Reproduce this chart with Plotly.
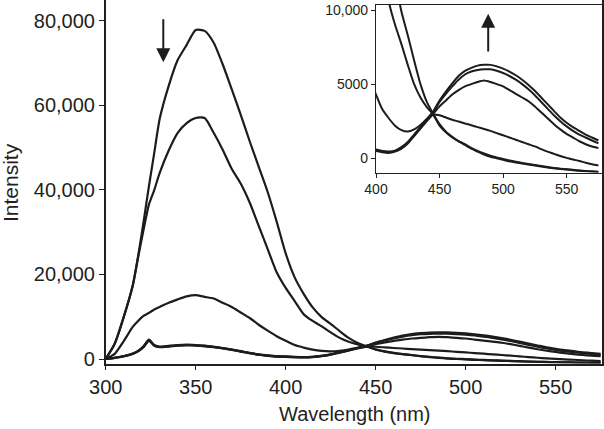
import plotly.graph_objects as go

# Wavelength grid (nm)
wavelength = [300, 305, 310, 315, 318, 321, 324, 327, 330, 335, 340, 345, 350, 355, 360, 365,
              370, 375, 380, 385, 390, 395, 400, 405, 410, 415, 420, 425, 430, 435, 440, 445,
              450, 455, 460, 465, 470, 475, 480, 485, 490, 495, 500, 505, 510, 515, 520, 525,
              530, 535, 540, 545, 550, 555, 560, 565, 570, 575]

# Emission spectra
curve_a = [0, 3600, 9900, 17300, 24300, 32300, 40800, 48800, 56800, 64600, 70700, 74300, 77800, 77600,
           74800, 69700, 63800, 57800, 51500, 45500, 39500, 32500, 25000, 19300, 15400, 12200, 9900, 8300,
           6600, 5000, 3800, 3000, 2300, 1800, 1450, 1150, 900, 650, 450, 250, 100, 0, -100, -200,
           -280, -350, -420, -480, -550, -620, -680, -720, -760, -800, -840, -870, -900, -920]
curve_b = [0, 3600, 9900, 17300, 24000, 30500, 36500, 40000, 44000, 49300, 53500, 55800, 57000, 57000,
           53500, 49500, 45000, 41500, 37000, 31500, 26000, 20500, 16800, 13700, 10600, 9000, 7700, 6300,
           5000, 4100, 3450, 2950, 2200, 1750, 1400, 1150, 950, 700, 500, 330, 180, 60, -40, -140,
           -230, -310, -380, -450, -520, -590, -650, -700, -740, -780, -820, -850, -880, -900]
curve_c = [0, 1200, 4200, 7600, 9000, 10200, 10900, 11700, 12300, 13300, 14100, 14800, 15100, 14700,
           14300, 13300, 12300, 11000, 9700, 8100, 6700, 5400, 4300, 3300, 2700, 2200, 1900, 1800,
           1950, 2250, 2650, 2950, 2900, 2750, 2600, 2480, 2350, 2230, 2100, 1980, 1850, 1700, 1550, 1400,
           1250, 1100, 950, 800, 620, 450, 300, 150, 30, -80, -180, -300, -400, -480]
curve_d = [0, 300, 700, 1300, 1900, 3000, 4600, 3300, 2900, 3100, 3300, 3400, 3300, 3150,
           2900, 2600, 2250, 1850, 1450, 1100, 850, 650, 600, 500, 450, 520, 750, 1100,
           1600, 2100, 2650, 3150, 3900, 4500, 5050, 5550, 5900, 6100, 6250, 6300, 6300, 6200, 6050, 5850,
           5600, 5300, 4950, 4550, 4100, 3650, 3200, 2750, 2400, 2100, 1850, 1600, 1400, 1200]
curve_e = [0, 280, 650, 1250, 1850, 2900, 4450, 3200, 2850, 3000, 3200, 3300, 3250, 3100,
           2850, 2550, 2200, 1800, 1400, 1050, 800, 620, 560, 470, 420, 500, 720, 1050,
           1550, 2050, 2600, 3100, 3800, 4350, 4850, 5300, 5650, 5850, 5950, 6000, 6000, 5900, 5750, 5550,
           5300, 5000, 4650, 4250, 3800, 3350, 2900, 2500, 2150, 1850, 1600, 1400, 1200, 1000]
curve_f = [0, 260, 620, 1200, 1800, 2800, 4300, 3100, 2800, 2950, 3150, 3250, 3150, 3000,
           2800, 2500, 2150, 1750, 1350, 1000, 750, 550, 500, 400, 350, 450, 650, 1000,
           1500, 2000, 2500, 3000, 3500, 3900, 4300, 4600, 4850, 5000, 5150, 5250, 5150, 5000, 4850, 4600,
           4350, 4100, 3850, 3500, 3100, 2700, 2300, 1950, 1650, 1400, 1150, 950, 800, 700]

curves = [curve_a, curve_b, curve_c, curve_d, curve_e, curve_f]

main_yticks = [0, 20000, 40000, 60000, 80000]
main_xticks = [300, 350, 400, 450, 500, 550]
inset_yticks = [0, 5000, 10000]
inset_yticklabels = ["0", "5000", "10,000"]
inset_xticks = [400, 450, 500, 550]

W, H = 604, 429
LINE = "#1c1c1c"
TXT = "#231f20"
FONT = "Liberation Sans, Arial, Helvetica, sans-serif"

fig = go.Figure()
for c in curves:
    fig.add_trace(go.Scatter(x=wavelength, y=c, mode="lines",
                             line=dict(color=LINE, width=2.2, shape="spline", smoothing=0.6),
                             xaxis="x", yaxis="y", showlegend=False, hoverinfo="skip"))
for c in curves:
    fig.add_trace(go.Scatter(x=wavelength, y=c, mode="lines",
                             line=dict(color=LINE, width=2.0, shape="spline", smoothing=0.6),
                             xaxis="x2", yaxis="y2", showlegend=False, hoverinfo="skip"))

axis_common = dict(showgrid=False, zeroline=False, showline=True, mirror=True,
                   linecolor=TXT, linewidth=1.5, ticks="outside", tickcolor=TXT,
                   tickwidth=1.3, automargin=False)

fig.update_layout(
    width=W, height=H,
    margin=dict(l=0, r=0, t=0, b=0),
    paper_bgcolor="white", plot_bgcolor="white",
    font=dict(family=FONT, color=TXT),
    xaxis=dict(axis_common, domain=[105.7 / W, 601.7 / W], range=[300, 575.6],
               tickvals=main_xticks, ticklen=5, tickfont=dict(size=20), anchor="y"),
    yaxis=dict(axis_common, domain=[1 - 363.5 / H, 1.0], range=[-1064, 84900],
               tickvals=main_yticks, tickformat=",d", ticklen=5,
               tickfont=dict(size=20), anchor="x"),
    xaxis2=dict(axis_common, domain=[376 / W, 601.7 / W], range=[400, 577.6],
                tickvals=inset_xticks, ticklen=4, tickfont=dict(size=14), anchor="y2",
                linewidth=1.2),
    yaxis2=dict(axis_common, domain=[1 - 172.5 / H, 1 - 4.5 / H], range=[-958, 10371],
                tickvals=inset_yticks, ticktext=inset_yticklabels, ticklen=4,
                tickfont=dict(size=14), anchor="x2", linewidth=1.2),
)

fig.add_annotation(text="Intensity", xref="paper", yref="paper", x=10 / W, y=1 - 183 / H,
                   textangle=-90, showarrow=False, font=dict(size=21, color=TXT),
                   xanchor="center", yanchor="middle")
fig.add_annotation(text="Wavelength (nm)", xref="paper", yref="paper", x=355 / W, y=1 - 414 / H,
                   showarrow=False, font=dict(size=20, color=TXT),
                   xanchor="center", yanchor="middle")

# Arrows
fig.add_annotation(x=332, y=70200, ax=332, ay=80700, xref="x", yref="y", axref="x", ayref="y",
                   showarrow=True, arrowhead=2, arrowsize=1.4, arrowwidth=2, arrowcolor=LINE, text="")
fig.add_annotation(x=488.3, y=9750, ax=488.3, ay=7100, xref="x2", yref="y2", axref="x2", ayref="y2",
                   showarrow=True, arrowhead=2, arrowsize=1.4, arrowwidth=2, arrowcolor=LINE, text="")

fig.write_html("out.html", config={"displayModeBar": False},
               post_script="document.body.style.margin='0';document.body.style.overflow='hidden';")
